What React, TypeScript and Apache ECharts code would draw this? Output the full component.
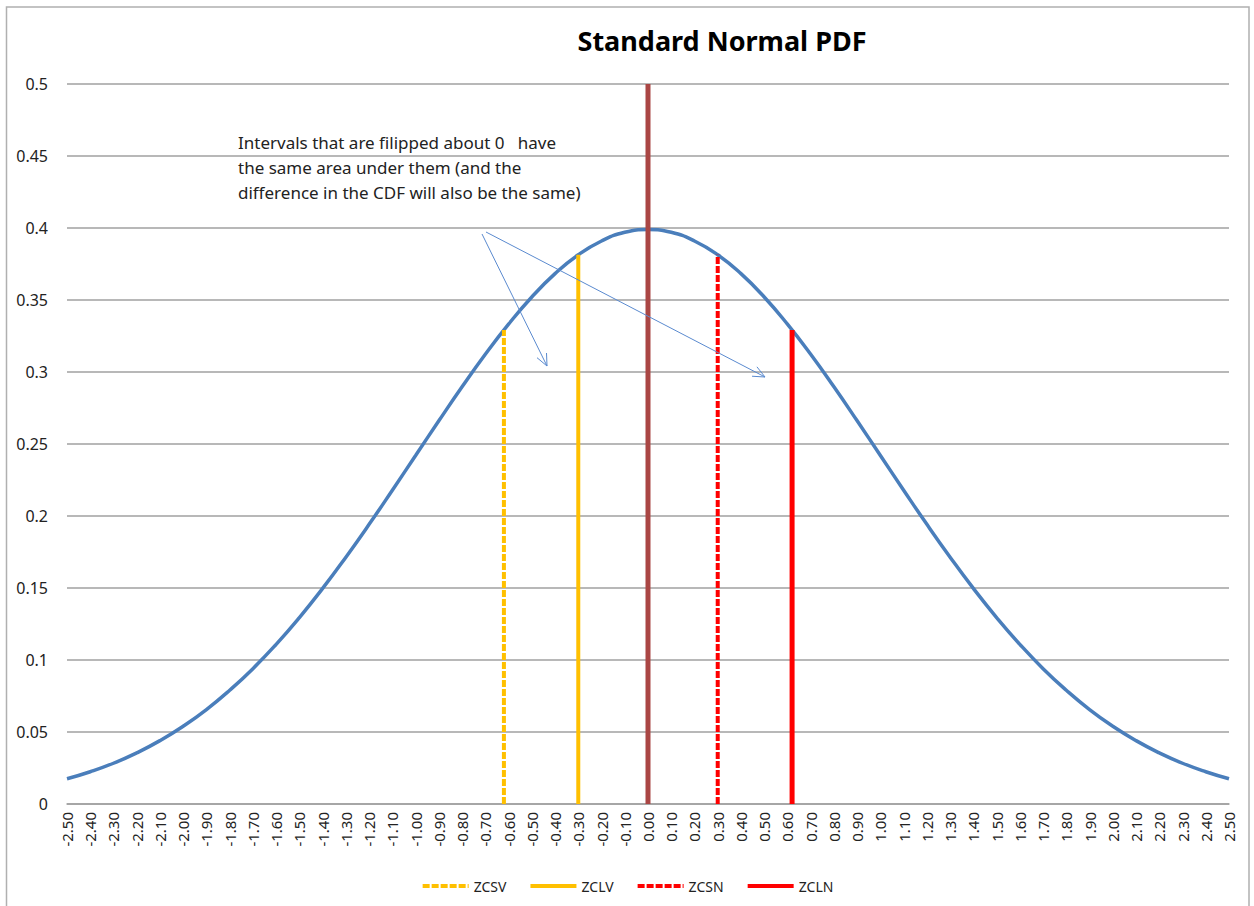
import React, { useEffect, useRef } from "react";
import * as echarts from "echarts";

// x positions (z) of the curve points
const Z_VALUES = [
  -2.5, -2.4, -2.3, -2.2, -2.1, -2.0, -1.9, -1.8, -1.7, -1.6, -1.5, -1.4, -1.3,
  -1.2, -1.1, -1.0, -0.9, -0.8, -0.7, -0.6, -0.5, -0.4, -0.3, -0.2, -0.1, 0.0,
  0.1, 0.2, 0.3, 0.4, 0.5, 0.6, 0.7, 0.8, 0.9, 1.0, 1.1, 1.2, 1.3, 1.4, 1.5,
  1.6, 1.7, 1.8, 1.9, 2.0, 2.1, 2.2, 2.3, 2.4, 2.5,
];
// density values
const PDF_VALUES = [
  0.0175, 0.0224, 0.0283, 0.0355, 0.044, 0.054, 0.0656, 0.079, 0.094, 0.1109,
  0.1295, 0.1497, 0.1714, 0.1942, 0.2179, 0.242, 0.2661, 0.2897, 0.3123,
  0.3332, 0.3521, 0.3683, 0.3814, 0.391, 0.397, 0.3989, 0.397, 0.391, 0.3814,
  0.3683, 0.3521, 0.3332, 0.3123, 0.2897, 0.2661, 0.242, 0.2179, 0.1942,
  0.1714, 0.1497, 0.1295, 0.1109, 0.094, 0.079, 0.0656, 0.054, 0.044, 0.0355,
  0.0283, 0.0224, 0.0175,
];
// vertical marker lines
const MARKER_NAMES = ["ZCSV", "ZCLV", "ZCSN", "ZCLN"];
const MARKER_X = [-0.62, -0.3, 0.3, 0.62];
const MARKER_TOP = [0.3292, 0.3814, 0.3814, 0.3292];
const CENTER_X = 0;
const CENTER_TOP = 0.5;

const TITLE = "Standard Normal PDF";
const NOTE_LINES = [
  "Intervals that are filipped about 0   have",
  "the same area under them (and the",
  "difference in the CDF will also be the same)",
];

const FONT = "'Noto Sans', 'Open Sans', sans-serif";

function arrow(x1: number, y1: number, x2: number, y2: number, color: string) {
  const ang = Math.atan2(y2 - y1, x2 - x1);
  const len = 13;
  const spread = 0.42;
  const a1 = ang + Math.PI - spread;
  const a2 = ang + Math.PI + spread;
  return [
    {
      type: "line",
      shape: { x1, y1, x2, y2 },
      style: { stroke: color, lineWidth: 1 },
      z: 100,
    },
    {
      type: "polyline",
      shape: {
        points: [
          [x2 + len * Math.cos(a1), y2 + len * Math.sin(a1)],
          [x2, y2],
          [x2 + len * Math.cos(a2), y2 + len * Math.sin(a2)],
        ],
      },
      style: { stroke: color, lineWidth: 1, fill: null },
      z: 100,
    },
  ];
}

export default function App() {
  const ref = useRef<HTMLDivElement>(null);

  useEffect(() => {
    if (!ref.current) return;
    const chart = echarts.init(ref.current, undefined, { renderer: "svg" });

    const curve = Z_VALUES.map((z, i) => [z, PDF_VALUES[i]]);
    const markerColors = ["#FFC000", "#FFC000", "#FF0000", "#FF0000"];
    const markerTypes: any[] = [[7, 2], "solid", [7, 2], "solid"];
    const markerWidths = [4, 4, 4, 5];

    const markerSeries = MARKER_NAMES.map((name, i) => ({
      name,
      type: "line",
      data: [
        [MARKER_X[i], 0],
        [MARKER_X[i], MARKER_TOP[i]],
      ],
      symbol: "none",
      lineStyle: {
        color: markerColors[i],
        width: markerWidths[i],
        type: markerTypes[i],
      },
      itemStyle: { color: markerColors[i] },
      z: 3,
    }));

    const arrowColor = "#5A8ACF";

    chart.setOption({
      animation: false,
      backgroundColor: "#ffffff",
      title: {
        text: TITLE,
        left: 717,
        top: 22,
        textAlign: "center",
        textStyle: {
          fontFamily: FONT,
          fontSize: 27,
          fontWeight: "bold",
          color: "#000",
        },
      },
      grid: { left: 67, right: 25, top: 84, bottom: 102, containLabel: false },
      xAxis: {
        type: "value",
        min: -2.5,
        max: 2.5,
        interval: 0.1,
        axisLine: { show: true, onZero: false, lineStyle: { color: "#A0A0A0", width: 1.5 } },
        axisTick: { show: false },
        splitLine: { show: false },
        axisLabel: {
          rotate: 90,
          margin: 8,
          fontFamily: FONT,
          fontSize: 15,
          color: "#222",
          showMinLabel: true,
          showMaxLabel: true,
          formatter: (v: number) => (Math.abs(v) < 1e-9 ? "0.00" : v.toFixed(2)),
        },
      },
      yAxis: {
        type: "value",
        min: 0,
        max: 0.5,
        interval: 0.05,
        axisLine: { show: false },
        axisTick: { show: false },
        splitLine: { show: true, lineStyle: { color: "#A0A0A0", width: 1.5 } },
        axisLabel: {
          margin: 19,
          fontFamily: FONT,
          fontSize: 16,
          color: "#222",
          formatter: (v: number) => String(Math.round(v * 100) / 100),
        },
      },
      legend: {
        data: MARKER_NAMES,
        left: "center",
        top: 874,
        itemWidth: 46,
        itemHeight: 14,
        itemGap: 22,
        itemStyle: { opacity: 0 },
        lineStyle: { width: 4 },
        textStyle: { fontFamily: FONT, fontSize: 14, color: "#222" },
      },
      series: [
        {
          name: "PDF",
          type: "line",
          data: curve,
          smooth: true,
          symbol: "none",
          lineStyle: { color: "#4A7EBB", width: 3.5 },
          z: 2,
        },
        ...markerSeries,
        {
          name: "Center",
          type: "line",
          data: [
            [CENTER_X, 0],
            [CENTER_X, CENTER_TOP],
          ],
          symbol: "none",
          lineStyle: { color: "#AA4644", width: 5 },
          z: 4,
        },
      ],
      graphic: [
        {
          type: "rect",
          shape: { x: 6.5, y: 7, width: 1242.5, height: 910 },
          style: { fill: null, stroke: "#B0B0B0", lineWidth: 1.5 },
          silent: true,
          z: -1,
        },
        {
          type: "text",
          x: 238,
          y: 130,
          style: {
            text: NOTE_LINES.join("\n"),
            fontFamily: FONT,
            fontSize: 17,
            lineHeight: 25,
            fill: "#222",
          },
          z: 100,
        },
        ...arrow(482, 234, 547, 366, arrowColor),
        ...arrow(486, 232, 765, 377, arrowColor),
      ],
    });

    return () => chart.dispose();
  }, []);

  return (
    <div
      ref={ref}
      style={{ position: "fixed", left: 0, top: 0, width: 1254, height: 906 }}
    />
  );
}
